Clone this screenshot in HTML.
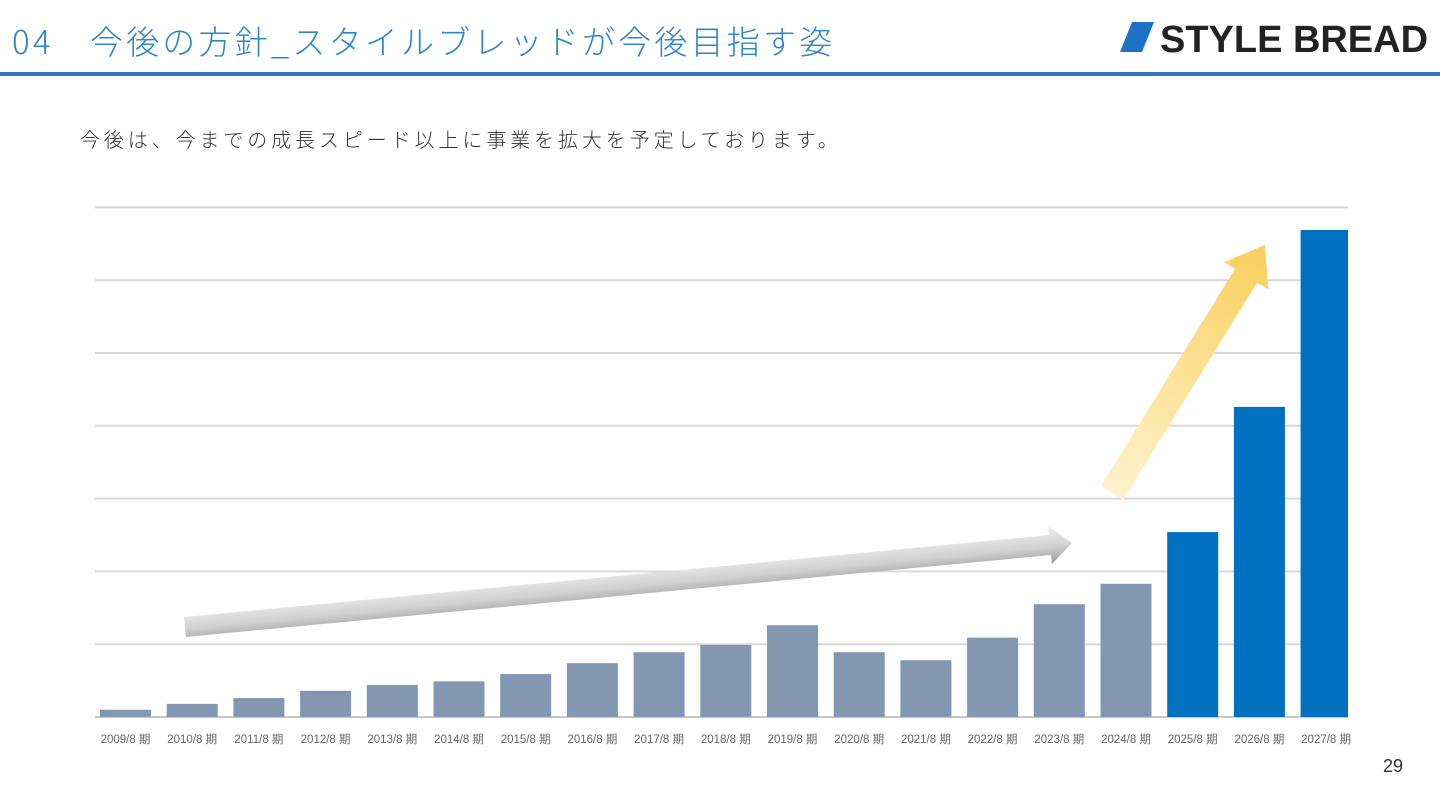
<!DOCTYPE html>
<html><head><meta charset="utf-8"><style>
body{margin:0;width:1440px;height:810px;background:#fff;overflow:hidden;font-family:"Liberation Sans","Noto Sans CJK JP",sans-serif;position:relative}
.t{position:absolute}
</style></head><body>
<div class="t" style="left:12px;top:16px;font-size:33px;color:#2E86C8;font-weight:300;letter-spacing:3.2px;font-family:'Noto Sans CJK JP',sans-serif">04　今後の方針_スタイルブレッドが今後目指す姿</div>
<div class="t" style="left:1118px;top:14px;height:42px;width:320px">
<svg width="320" height="42"><polygon points="14,8 36,8 24,38 2,38" fill="#1A73C4"/><text x="42" y="38" font-family="Liberation Sans,sans-serif" font-weight="bold" font-size="38" fill="#222" textLength="268" lengthAdjust="spacingAndGlyphs">STYLE BREAD</text></svg></div>
<div class="t" style="left:0;top:72px;width:1440px;height:4px;background:#2E75B6"></div>
<div class="t" style="left:80px;top:124px;font-size:20px;color:#333;letter-spacing:3.9px;font-family:'Noto Sans CJK JP',sans-serif;font-weight:300">今後は、今までの成長スピード以上に事業を拡大を予定しております。</div>
<div class="t" style="left:1383px;top:756px;font-size:18px;color:#333">29</div>
<svg class="t" style="left:0;top:0" width="1440" height="810" id="chart">
<defs>
<linearGradient id="gg" x1="0" y1="0" x2="0" y2="1"><stop offset="0" stop-color="#f0f0f0"/><stop offset="0.55" stop-color="#d0d0d0"/><stop offset="1" stop-color="#9a9a9a"/></linearGradient>
<linearGradient id="yg" x1="0" y1="0" x2="1" y2="0"><stop offset="0" stop-color="#FFF2CC"/><stop offset="1" stop-color="#F9CF5C"/></linearGradient>
</defs>
</svg>
<script>
const categories=["2009/8 期","2010/8 期","2011/8 期","2012/8 期","2013/8 期","2014/8 期","2015/8 期","2016/8 期","2017/8 期","2018/8 期","2019/8 期","2020/8 期","2021/8 期","2022/8 期","2023/8 期","2024/8 期","2025/8 期","2026/8 期","2027/8 期"];
const values=[0.10,0.18,0.26,0.36,0.44,0.49,0.59,0.74,0.89,0.99,1.26,0.89,0.78,1.09,1.55,1.83,2.54,4.26,6.69];
const forecast=[0,0,0,0,0,0,0,0,0,0,0,0,0,0,0,0,1,1,1];
const gridTicks=[0,1,2,3,4,5,6,7];
const NS="http://www.w3.org/2000/svg";
const svg=document.getElementById('chart');
const y0=717,unit=72.8,x0=95,x1=1348;
const yS=v=>y0-v*unit;
const xC=i=>125.5+66.7*i;
function mk(t,a,p){const e=document.createElementNS(NS,t);for(const k in a)e.setAttribute(k,a[k]);(p||svg).appendChild(e);return e;}
gridTicks.forEach(t=>{const l=mk('line',{x1:x0,x2:x1,y1:yS(t),y2:yS(t),stroke:t==0?'#c8c8c8':'#d9d9d9','stroke-width':2});

});
values.forEach((v,i)=>{const x=xC(i)-25.5;const w=Math.min(51,x1-x);
const r=mk('rect',{x:x,y:yS(v),width:w,height:v*unit,fill:forecast[i]?'#0070C0':'#8497B0'});


const tx=mk('text',{x:xC(i),y:743,'text-anchor':'middle','font-size':11.5,fill:'#666','font-family':'Liberation Sans,Noto Sans CJK JP,sans-serif'});
tx.textContent=categories[i];

});
function arrow(xa,ya,xb,yb,w,hw,hl,fill,name){const dx=xb-xa,dy=yb-ya,L=Math.hypot(dx,dy),ang=Math.atan2(dy,dx)*180/Math.PI;
const g=mk('g',{transform:`translate(${xa},${ya}) rotate(${ang})`});
const bx=L-hl;
const p=[[0,-w],[bx,-w],[bx,-hw],[L,0],[bx,hw],[bx,w],[0,w]];
const e=mk('polygon',{points:p.map(q=>q.join(',')).join(' '),fill:fill},g);

}
arrow(185,627,1072,543,10,19,22,'url(#gg)','growth-arrow-gray');
arrow(1112,493,1265,245,13,26,36,'url(#yg)','growth-arrow-yellow');
</script>
</body></html>
